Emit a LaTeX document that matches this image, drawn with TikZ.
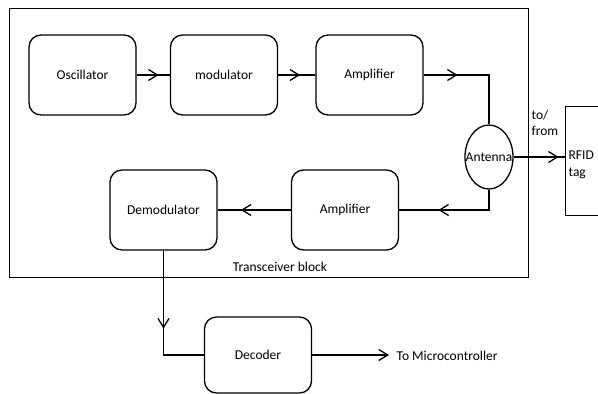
\documentclass[tikz,border=0pt]{standalone}
\usepackage{fontspec}
\setmainfont{Carlito}
\usetikzlibrary{arrows.meta,decorations.markings,shapes.geometric}
\begin{document}
\begin{tikzpicture}[x=1pt,y=-1pt,line width=1.3pt,
  font=\fontsize{13.5}{16.5}\selectfont,
  block/.style={draw,rounded corners=12pt,minimum width=107pt,minimum height=80pt,inner sep=0pt},
  midarrow/.style={postaction={decorate},decoration={markings,mark=at position #1 with {\arrow{Straight Barb[length=9pt,width=11pt]}}}},
  txt/.style={inner sep=0pt}
]
\useasboundingbox (0,0) rectangle (598,394);
\clip (0,0) rectangle (598,394);

% transceiver block frame
\node[draw,anchor=north west,minimum width=519pt,minimum height=269pt,inner sep=0pt] (trx) at (9,8) {};
\node[txt] (trxlabel) at (280,267) {Transceiver block};

% blocks
\node[block] (osc) at (82.5,75) {Oscillator};
\node[block] (mod) at (224,75) {modulator};
\node[block] (amp1) at (369.5,75) {Amplifier};
\node[block] (demod) at (163.5,210) {Demodulator};
\node[block] (amp2) at (345,210) {Amplifier};
\node[block,minimum height=76pt] (dec) at (258,355) {Decoder};

% antenna
\node[draw,ellipse,minimum width=48pt,minimum height=64pt,inner sep=0pt,label={center:Antenna}] (ant) at (489,157) {};

% RFID tag
\node[draw,anchor=north west,minimum width=60pt,minimum height=109pt,inner sep=0pt] (rfid) at (565,106) {};
\node[txt,anchor=west,align=left] (rfidtxt) at (568,165) {RFID\\tag};
\node[txt,anchor=west,align=left] (tofrom) at (531,123) {to/\\from};

% connectors
\draw[midarrow=22pt] (osc) -- (mod);
\draw[midarrow=22pt] (mod) -- (amp1);
\draw[midarrow=34pt] (amp1.east) -| (ant.north);
\draw[midarrow=45pt] (ant.east) -- (rfid.west |- ant.east);
\draw[midarrow=71pt] (ant.south) |- (amp2.east);
\draw[midarrow=50pt] (amp2) -- (demod);
\draw[midarrow=78pt] (demod.south) |- (dec.west);
\coordinate (mc) at (389,355);
\draw[-{Straight Barb[length=9pt,width=11pt]}] (dec.east) -- (mc);
\node[txt,anchor=west] (mctxt) at (396,356) {To Microcontroller};
\end{tikzpicture}
\end{document}
